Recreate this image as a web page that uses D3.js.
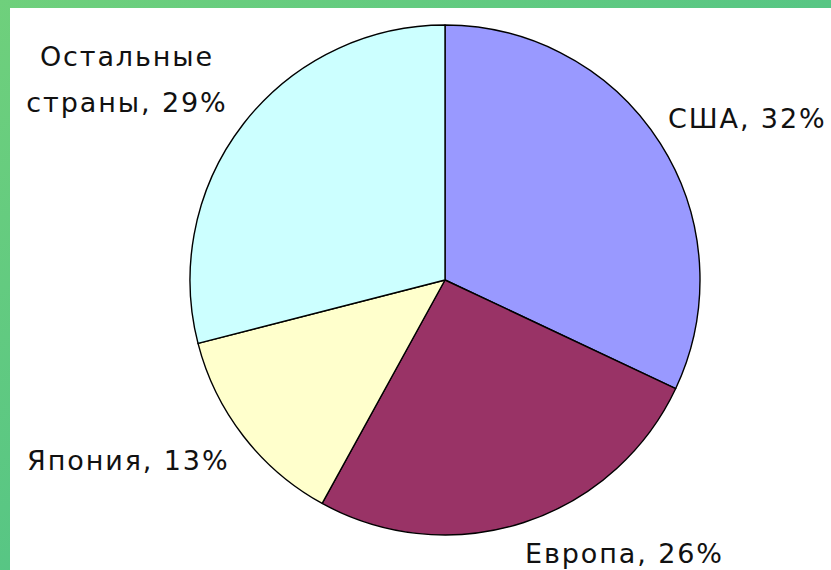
<!DOCTYPE html>
<html>
<head>
<meta charset="utf-8">
<script src="https://cdn.jsdelivr.net/npm/d3@7"></script>
<style>
  html, body { margin: 0; padding: 0; background: #ffffff; }
  svg { display: block; }
</style>
</head>
<body>
<svg id="chart" width="831" height="570"></svg>
<script>
// Shares by region, in percent, clockwise from 12 o'clock
const regions = ["США", "Европа", "Япония", "Остальные страны"];
const shares = [32, 26, 13, 29];
const fills = ["#9999ff", "#993366", "#ffffcc", "#ccffff"];

const width = 831, height = 570;
const svg = d3.select("#chart");

// Green frame with a soft gradient
const defs = svg.append("defs");
const grad = defs.append("linearGradient")
  .attr("id", "frame").attr("x1", "0").attr("y1", "0").attr("x2", "1").attr("y2", "1");
grad.append("stop").attr("offset", "0%").attr("stop-color", "#6fd07c");
grad.append("stop").attr("offset", "100%").attr("stop-color", "#40bc8c");
svg.append("rect").attr("width", width).attr("height", height).attr("fill", "url(#frame)");
svg.append("rect").attr("x", 10).attr("y", 8).attr("width", width - 10).attr("height", height - 8)
  .attr("fill", "#ffffff");

const cx = 445, cy = 280, r = 255;

const pie = d3.pie().sort(null).value(d => d.value).startAngle(0).endAngle(2 * Math.PI);
const arc = d3.arc().innerRadius(0).outerRadius(r);
const data = regions.map((name, i) => ({ name, value: shares[i], fill: fills[i] }));

const g = svg.append("g").attr("transform", `translate(${cx},${cy})`);
g.selectAll("path")
  .data(pie(data))
  .join("path")
  .attr("d", arc)
  .attr("fill", d => d.data.fill)
  .attr("stroke", "#000000")
  .attr("stroke-width", 1.4)
  .attr("stroke-linejoin", "round");

// Category labels with their percentage
const labelFont = "'DejaVu Sans', sans-serif";
const labelSize = 27;
const labels = [
  { lines: [regions[0] + ", " + shares[0] + "%"], x: 668, y: 128, anchor: "start" },
  { lines: [regions[1] + ", " + shares[1] + "%"], x: 525, y: 563, anchor: "start" },
  { lines: [regions[2] + ", " + shares[2] + "%"], x: 27, y: 470, anchor: "start" },
  { lines: ["Остальные", "страны, " + shares[3] + "%"], x: 127, y: 66, anchor: "middle" }
];
labels.forEach(l => {
  const t = svg.append("text")
    .attr("x", l.x).attr("y", l.y)
    .attr("text-anchor", l.anchor)
    .attr("font-family", labelFont)
    .attr("font-size", labelSize)
    .attr("letter-spacing", 1.9)
    .attr("fill", "#111111");
  l.lines.forEach((line, i) => {
    t.append("tspan").attr("x", l.x).attr("dy", i === 0 ? 0 : 46).text(line);
  });
});
</script>
</body>
</html>
